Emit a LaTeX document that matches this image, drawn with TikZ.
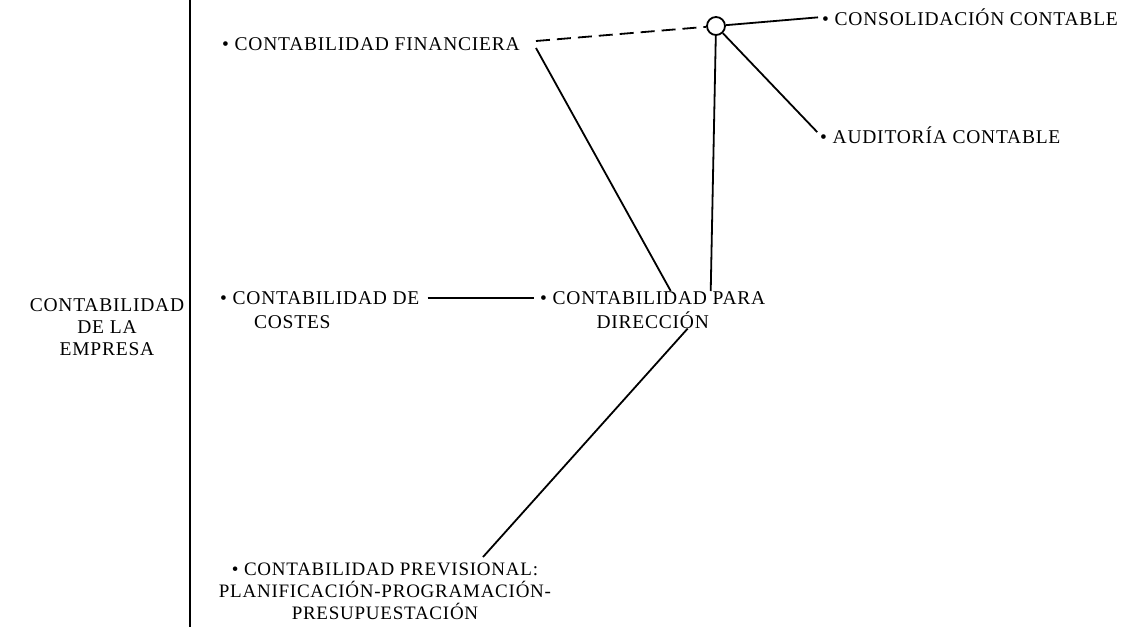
\documentclass[tikz,border=0pt]{standalone}
\usepackage{fontspec}
\setmainfont{Liberation Serif}
\newfontfamily\platefont[LetterSpace=4]{Liberation Serif}
\usetikzlibrary{positioning}

\begin{document}
\begin{tikzpicture}[x=1pt,y=-1pt,
    field/.style={
% The shape:
rectangle,
% The size:
inner sep=0pt,
% The text:
font=\platefont\fontsize{19.5}{24}\selectfont, align=center,
},
    hub/.style={
% The shape:
circle,
% The size:
minimum size=18pt, inner sep=0pt,
% The border:
line width=1.8pt, draw, fill=white,
},
    link/.style={line width=1.8pt},
]
  \useasboundingbox (0,0) rectangle (1128,627);
  \coordinate (top) at (190,0);
  \coordinate (bottom) at (190,627);
  \draw[line width=2.4pt] (top) -- (bottom);

  \node[field,anchor=north,font=\platefont\fontsize{19.5}{22}\selectfont]
    (empresa) at (107,298) {CONTABILIDAD\\DE LA\\EMPRESA};
  \node[field,anchor=west]  (fin) at (222,44) {\textbullet\ CONTABILIDAD FINANCIERA};
  \node[hub]                (hub) at (716,26) {};
  \node[field,anchor=west]  (cons) at (822,17) {\textbullet\ CONSOLIDACIÓN CONTABLE};
  \node[field,anchor=west]  (aud) at (820,135) {\textbullet\ AUDITORÍA CONTABLE};
  \node[field,anchor=north west]
    (cost) at (220,291) {\textbullet\ CONTABILIDAD DE\\COSTES\hspace*{55pt}};
  \node[field,anchor=north west]
    (dir) at (540,291) {\textbullet\ CONTABILIDAD PARA\\DIRECCIÓN};
  \node[field,anchor=north,font=\platefont\fontsize{19}{22}\selectfont]
    (prev) at (385,563) {\textbullet\ CONTABILIDAD PREVISIONAL:\\PLANIFICACIÓN-PROGRAMACIÓN-\\PRESUPUESTACIÓN};

  \draw[link,dash pattern=on 14pt off 7pt] ([xshift=16pt,yshift=3pt]fin.east) -- (hub);
  \draw[link] ([xshift=16pt,yshift=-4pt]fin.east) -- ([xshift=18pt]dir.north);
  \draw[link] (hub) -- ([xshift=58pt]dir.north);
  \draw[link,shorten >=4pt] (hub) -- (cons.west);
  \draw[link,shorten >=4pt] (hub) -- (aud.west);
  \draw[link] ([xshift=8pt,yshift=12pt]cost.east) -- ([xshift=-6pt,yshift=12pt]dir.west);
  \draw[link] ([xshift=98pt,yshift=6pt]prev.north) -- ([xshift=35pt]dir.south);

\end{tikzpicture}
\end{document}
